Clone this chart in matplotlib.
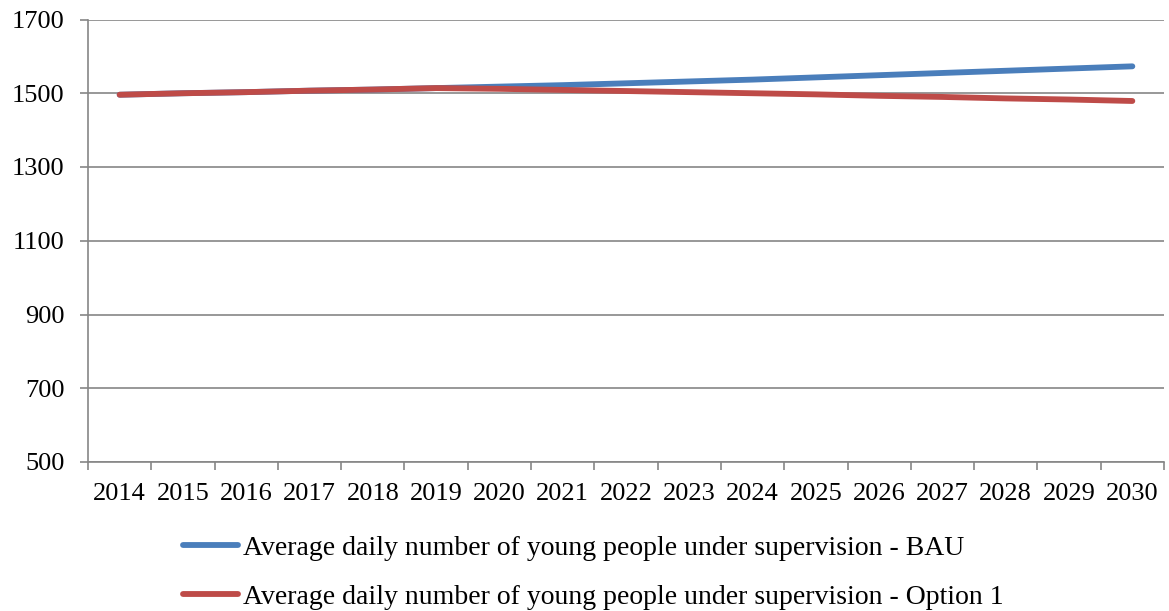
import matplotlib
matplotlib.use("Agg")
import matplotlib.pyplot as plt
import numpy as np

years = [str(y) for y in range(2014, 2031)]
bau = [1496, 1500, 1503, 1507, 1510, 1514, 1518, 1522, 1527, 1532, 1537, 1543, 1549, 1555, 1561, 1567, 1573]
opt1 = [1496, 1500, 1503, 1507, 1510, 1514, 1512, 1509, 1506, 1503, 1500, 1497, 1493, 1490, 1486, 1483, 1479]
series_names = ["Average daily number of young people under supervision - BAU",
                "Average daily number of young people under supervision - Option 1"]
yticks = [500, 700, 900, 1100, 1300, 1500, 1700]

plt.rcParams['font.family'] = ['Liberation Serif', 'DejaVu Serif']

fig = plt.figure(figsize=(11.69, 6.11), dpi=100)
ax = fig.add_axes([88/1169, 1-462/611, (1164-88)/1169, (462-19.5)/611])

x = np.arange(len(years))
grid_c = '#868686'
ax.plot(x, bau, color='#4A7EBB', lw=4.2, solid_capstyle='round', label=series_names[0], zorder=3)
ax.plot(x, opt1, color='#BE4B48', lw=4.2, solid_capstyle='round', label=series_names[1], zorder=4)

ax.set_xlim(-0.5, len(years) - 0.5)
ax.set_ylim(500, 1700)
ax.set_yticks(yticks)
ax.set_yticklabels([str(v) for v in yticks], fontsize=19)
ax.set_xticks(x)
ax.set_xticklabels(years, fontsize=19)
ax.set_xticks(np.arange(-0.5, len(years)), minor=True)
ax.tick_params(axis='x', which='major', length=0, pad=15)
ax.tick_params(axis='x', which='minor', length=6, width=1.2, color=grid_c)
ax.tick_params(axis='y', length=6, width=1.2, color=grid_c, pad=11)
ax.grid(axis='y', color=grid_c, lw=1.2)
for s in ['top', 'right']:
    ax.spines[s].set_visible(False)
for s in ['left', 'bottom']:
    ax.spines[s].set_color(grid_c)
    ax.spines[s].set_linewidth(1.2)

fig.legend(loc='center', bbox_to_anchor=(593/1169, 1 - 572.5/611), frameon=False, fontsize=20,
           handlelength=2.0, handletextpad=0.15, labelspacing=0.86)

fig.savefig("out.png", dpi=100)
